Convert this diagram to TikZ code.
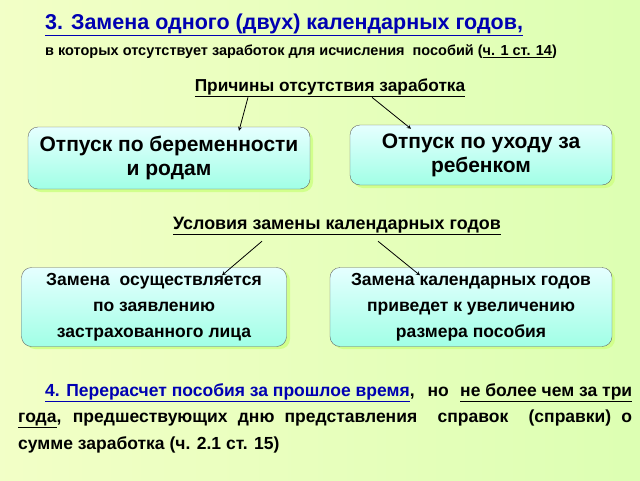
\documentclass[tikz,border=0pt]{standalone}
\usepackage{fontspec}
\setmainfont{Liberation Sans}
\begin{document}
\begin{tikzpicture}[x=1pt,y=-1pt,
  box/.style={draw=black!60,rounded corners=10pt,top color=white!90!cyan,bottom color=cyan!30!white!90!green,align=center,inner sep=0pt,font=\bfseries},
  arr/.style={-stealth,thick},
  lbl/.style={inner sep=0pt,font=\bfseries}]
\useasboundingbox (0,0) rectangle (640,480);
\shade[left color=yellow!18!white!95!green, right color=green!45!yellow!30] (0,0) rectangle (640,480);
\node[lbl,anchor=west,text=blue!70!black,font=\bfseries\fontsize{21.5}{24}\selectfont] (t1) at (45,25) {\underline{3. Замена одного (двух) календарных годов,}};
\node[lbl,anchor=west,font=\bfseries\fontsize{14.5}{16}\selectfont] (t2) at (45,52) {в которых отсутствует заработок для исчисления \ пособий (\underline{ч. 1 ст. 14})};
\node[lbl,font=\bfseries\fontsize{17.3}{20}\selectfont] (h1) at (330,88) {\underline{Причины отсутствия заработка}};
\fill[green!40!yellow!45,rounded corners=10pt] (31,130) rectangle (313,192);
\fill[green!40!yellow!45,rounded corners=10pt] (353,128) rectangle (615,188);
\node[box,minimum width=282,minimum height=62,font=\bfseries\fontsize{21}{24}\selectfont] (b1) at (169,158) {Отпуск по беременности\\и родам};
\node[box,minimum width=262,minimum height=60,font=\bfseries\fontsize{21}{24}\selectfont] (b2) at (481,155) {Отпуск по уходу за\\ребенком};
\draw[arr] ([xshift=-82]h1.south) -- ([xshift=70,yshift=-4]b1.north);
\draw[arr] ([xshift=42]h1.south) -- ([xshift=-70,yshift=-4]b2.north);
\node[lbl,font=\bfseries\fontsize{17.9}{20}\selectfont] (h2) at (337,226) {\underline{Условия замены календарных годов}};
\fill[green!40!yellow!45,rounded corners=10pt] (25,270) rectangle (290,349);
\fill[green!40!yellow!45,rounded corners=10pt] (333,270) rectangle (615,349);
\node[box,minimum width=265,minimum height=79,font=\bfseries\fontsize{17.5}{26}\selectfont] (b3) at (154,307) {Замена \ осуществляется\\по заявлению\\застрахованного лица};
\node[box,minimum width=282,minimum height=79,font=\bfseries\fontsize{17.5}{26}\selectfont] (b4) at (471,307) {Замена календарных годов\\приведет к увеличению\\размера пособия};
\draw[arr] ([xshift=-75,yshift=-6]h2.south) -- ([xshift=68,yshift=-8]b3.north);
\draw[arr] ([xshift=41,yshift=-6]h2.south) -- ([xshift=-51,yshift=-8]b4.north);
\node[lbl,anchor=north west,text width=614,align=justify,font=\bfseries\fontsize{17.5}{26.5}\selectfont] (p) at (18,383) {\hspace*{27pt}\textcolor{blue!70!black}{\underline{4. Перерасчет пособия за прошлое время}}, но \underline{не более чем за три}\linebreak \underline{года}, предшествующих дню представления \ справок \ (справки) о\linebreak сумме заработка (ч. 2.1 ст. 15)};
\end{tikzpicture}
\end{document}
